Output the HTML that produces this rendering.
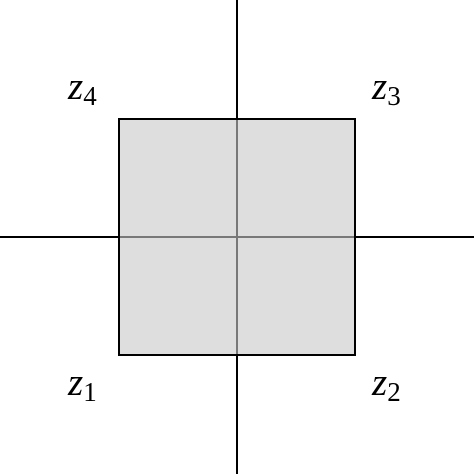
<!DOCTYPE html>
<html>
<head>
<meta charset="utf-8">
<style>
html,body{margin:0;padding:0;background:#fff;}
svg{display:block;}
text{font-family:"Liberation Serif",serif;fill:#000;}
</style>
</head>
<body>
<svg id="chart" width="474" height="474" viewBox="0 0 474 474" xmlns="http://www.w3.org/2000/svg">
  <line x1="0" y1="237" x2="474" y2="237" stroke="#000" stroke-width="2"/>
  <line x1="237" y1="0" x2="237" y2="474" stroke="#000" stroke-width="2"/>
  <rect x="119" y="119" width="236" height="236" fill="#c8c8c8" fill-opacity="0.6" stroke="#000" stroke-width="2"/>
  <g id="labels"></g>
</svg>
<script>
const names = ["z","z","z","z"];
const subs = ["1","2","3","4"];
const cornerX = [-1, 1, 1, -1];
const cornerY = [-1, -1, 1, 1];
const cx = 237, cy = 237, half = 118, off = 30;
const g = document.getElementById('labels');
const ns = 'http://www.w3.org/2000/svg';
for (let i = 0; i < names.length; i++) {
  const px = cx + cornerX[i] * (half + off) + (cornerX[i] < 0 ? -21 : -13);
  const py = cy - cornerY[i] * (half + off) + 10;
  const t = document.createElementNS(ns, 'text');
  
  
  t.setAttribute('x', px);
  t.setAttribute('y', py);
  t.setAttribute('font-size', '39');
  t.setAttribute('font-style', 'italic');
  t.textContent = names[i];
  const s = document.createElementNS(ns, 'tspan');
  
  
  s.setAttribute('font-size', '27');
  s.setAttribute('font-style', 'normal');
  s.setAttribute('dy', '6');
  s.textContent = subs[i];
  t.appendChild(s);
  g.appendChild(t);
}
</script>
</body>
</html>
